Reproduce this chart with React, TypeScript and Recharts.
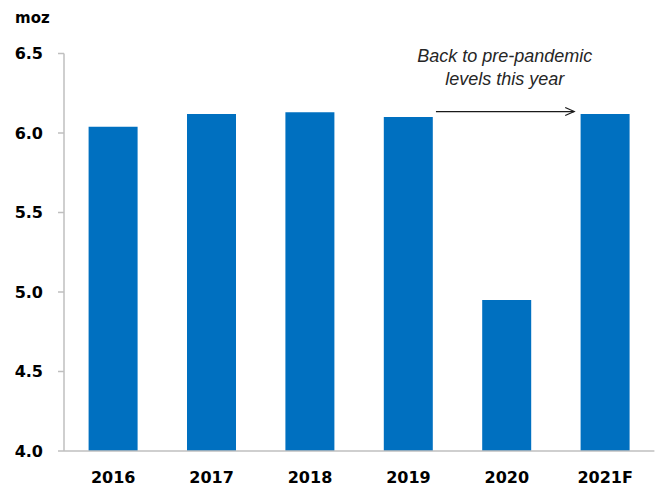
import React from "react";
import { BarChart, Bar, XAxis, YAxis, ReferenceLine } from "recharts";

const categories = ["2016", "2017", "2018", "2019", "2020", "2021F"];
const values = [6.04, 6.12, 6.13, 6.1, 4.95, 6.12];
const yTicks = [4.0, 4.5, 5.0, 5.5, 6.0, 6.5];
const unitLabel = "moz";
const noteLines = ["Back to pre-pandemic", "levels this year"];
const arrowFrom = "2019";
const arrowTo = "2021F";
const arrowValue = 6.135;

const data = categories.map((c, i) => ({ year: c, value: values[i] }));

const BAR_COLOR = "#0070C0";
const AXIS_COLOR = "#BFBFBF";
const TICK_FONT = "'DejaVu Sans', sans-serif";

const ArrowShape = (props: any) => {
  const { x1, y1, x2 } = props;
  if (x1 == null || x2 == null || y1 == null) return null;
  const band = (x2 - x1) / 2;
  const sx = x1 + band * 0.28;
  const ex = x2 - band * 0.315;
  const y = y1;
  const mid = (x1 + x2) / 2 - 2;
  return (
    <g>
      <line x1={sx} y1={y} x2={ex} y2={y} stroke="#1a1a1a" strokeWidth={1.2} />
      <polyline
        points={`${ex - 9},${y - 4} ${ex},${y} ${ex - 9},${y + 4}`}
        fill="none"
        stroke="#1a1a1a"
        strokeWidth={1.2}
      />
      <text
        x={mid}
        y={y - 50}
        textAnchor="middle"
        fontFamily="'Liberation Sans', Arial, sans-serif"
        fontStyle="italic"
        fontSize={18}
        fill="#262626"
      >
        {noteLines[0]}
      </text>
      <text
        x={mid}
        y={y - 27}
        textAnchor="middle"
        fontFamily="'Liberation Sans', Arial, sans-serif"
        fontStyle="italic"
        fontSize={18}
        fill="#262626"
      >
        {noteLines[1]}
      </text>
    </g>
  );
};

export default function App() {
  return (
    <div style={{ position: "absolute", left: 0, top: 0, width: 659, height: 486, background: "#fff" }}>
      <svg
        width={80}
        height={30}
        style={{ position: "absolute", left: 0, top: 0 }}
      >
        <text x={15} y={23} fontFamily={TICK_FONT} fontWeight="bold" fontSize={15} fill="#000">
          {unitLabel}
        </text>
      </svg>
      <BarChart
        width={659}
        height={486}
        data={data}
        margin={{ top: 53.5, right: 4.6, bottom: 5, left: 0 }}
        barCategoryGap="25%"
      >
        <XAxis
          dataKey="year"
          height={30}
          axisLine={{ stroke: AXIS_COLOR, strokeWidth: 1.5 }}
          tickLine={false}
          tickSize={6}
          tickMargin={15}
          tick={{ fontFamily: TICK_FONT, fontWeight: "bold", fontSize: 16, fill: "#000" }}
          interval={0}
        />
        <YAxis
          width={64}
          domain={[4, 6.5]}
          ticks={yTicks}
          interval={0}
          tickFormatter={(v: number) => v.toFixed(1)}
          axisLine={{ stroke: AXIS_COLOR, strokeWidth: 1.5 }}
          tickLine={{ stroke: AXIS_COLOR, strokeWidth: 1.5 }}
          tickSize={6}
          tickMargin={15}
          tick={{ fontFamily: TICK_FONT, fontWeight: "bold", fontSize: 16, fill: "#000" }}
        />
        <Bar dataKey="value" fill={BAR_COLOR} isAnimationActive={false} />
        <ReferenceLine
          segment={[
            { x: arrowFrom, y: arrowValue },
            { x: arrowTo, y: arrowValue },
          ]}
          shape={ArrowShape}
          ifOverflow="visible"
        />
      </BarChart>
    </div>
  );
}
